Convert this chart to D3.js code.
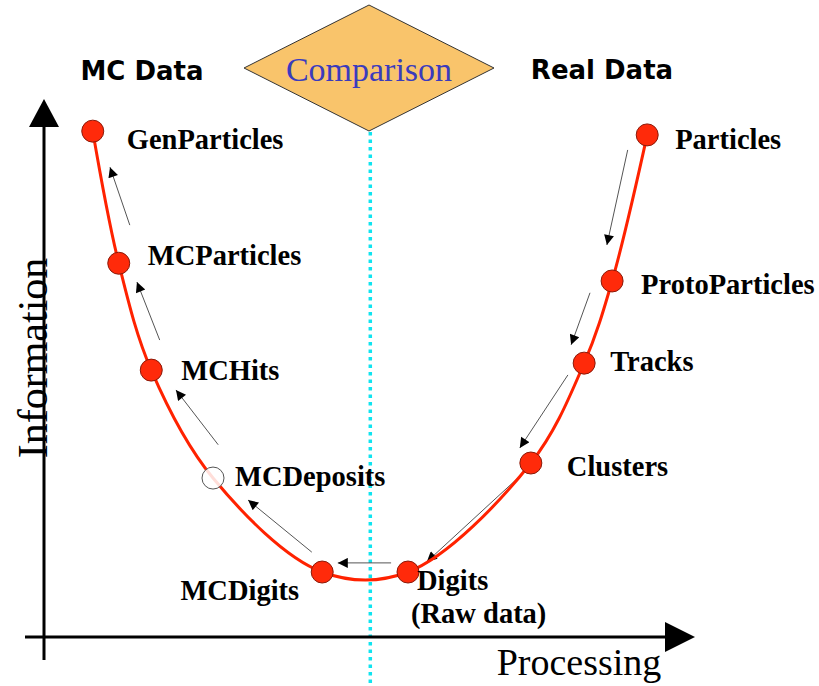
<!DOCTYPE html>
<html><head><meta charset="utf-8">
<script src="https://cdn.jsdelivr.net/npm/d3@7"></script>
<style>body{margin:0;background:#fff}svg{display:block}</style>
</head><body>
<svg id="c" width="819" height="686"></svg>
<script>
// Data (processing = x, information = y, arbitrary units 0..100)
const stages = ["GenParticles","MCParticles","MCHits","MCDeposits","MCDigits","Digits","Clusters","Tracks","ProtoParticles","Particles"];
const processing = [7.5, 11.5, 16.5, 26.0, 42.8, 56.0, 74.9, 83.1, 87.4, 92.8];
const information = [94.2, 69.6, 49.7, 29.6, 12.1, 12.1, 32.4, 51.0, 66.3, 93.5];
const hollow = ["MCDeposits"];
const sublabels = {"Digits": "(Raw data)"};
// flow arrows [fromX, fromY, toX, toY] in data units
const flowFrom = [[13.2,76.7],[17.8,55.3],[26.8,35.8],[41.2,15.8],[53.4,13.8],[89.8,90.7],[84.0,64.1],[80.6,48.8],[72.9,29.6]];
const flowTo   = [[10.15,87.5],[14.3,66.1],[20.3,46.0],[31.4,25.5],[45.2,13.8],[86.6,73.0],[81.1,54.4],[73.2,35.2],[58.9,14.0]];
const comparisonX = 50.2;

// layout
const labelOffsets = [[34,8],[29,-8],[30,0],[22,-2],[-23,18],[9,8],[36,3],[26,-2],[29,4],[28,5]];

const svg = d3.select("#c");
const x = d3.scaleLinear().domain([0,100]).range([44,694]);
const y = d3.scaleLinear().domain([0,100]).range([637,100]);

const defs = svg.append("defs");
defs.append("marker").attr("id","ah").attr("viewBox","0 0 10 10").attr("refX",10).attr("refY",5)
  .attr("markerWidth",14).attr("markerHeight",10).attr("markerUnits","userSpaceOnUse").attr("orient","auto")
  .append("path").attr("d","M0,0L10,5L0,10Z").attr("fill","#000");

// Comparison dotted line
svg.append("line").attr("x1",x(comparisonX)).attr("x2",x(comparisonX)).attr("y1",132).attr("y2",686)
  .attr("stroke","#10e4f0").attr("stroke-width",3.5).attr("stroke-dasharray","3.5,4");

// axes
svg.append("line").attr("x1",44).attr("x2",44).attr("y1",125).attr("y2",660).attr("stroke","#000").attr("stroke-width",3);
svg.append("path").attr("d","M29,127L44,99L59,127Z").attr("fill","#000");
svg.append("line").attr("x1",25).attr("x2",668).attr("y1",637).attr("y2",637).attr("stroke","#000").attr("stroke-width",3);
svg.append("path").attr("d","M665,622L695,637L665,652Z").attr("fill","#000");

svg.append("text").attr("transform","translate(47,358) rotate(-90)").attr("text-anchor","middle")
  .attr("font-family","Liberation Serif").attr("font-size",42).text("Information");
svg.append("text").attr("x",579).attr("y",675).attr("text-anchor","middle")
  .attr("font-family","Liberation Serif").attr("font-size",38).text("Processing");

// diamond
svg.append("path").attr("d","M369,5L494,68L369,131L244,68Z").attr("fill","#f9c46b").attr("stroke","#333").attr("stroke-width",1);
svg.append("text").attr("x",369).attr("y",69).attr("text-anchor","middle").attr("dominant-baseline","central")
  .attr("font-family","Liberation Serif").attr("font-size",34).attr("fill","#3b3bbd").text("Comparison");
svg.append("text").attr("x",142).attr("y",71).attr("text-anchor","middle").attr("dominant-baseline","central")
  .attr("font-family","'Comic Sans MS','DejaVu Sans'").attr("font-weight","bold").attr("font-size",26).text("MC Data");
svg.append("text").attr("x",602).attr("y",70).attr("text-anchor","middle").attr("dominant-baseline","central")
  .attr("font-family","'Comic Sans MS','DejaVu Sans'").attr("font-weight","bold").attr("font-size",26).text("Real Data");

// arrows
svg.selectAll("line.flow").data(flowFrom).enter().append("line").attr("class","flow")
  .attr("x1",d=>x(d[0])).attr("y1",d=>y(d[1]))
  .attr("x2",(d,i)=>x(flowTo[i][0])).attr("y2",(d,i)=>y(flowTo[i][1]))
  .attr("stroke","#555").attr("stroke-width",1).attr("marker-end","url(#ah)");

// curve
const pts = stages.map((s,i)=>({name:s, px:processing[i], info:information[i], i}));
svg.append("path").datum(pts)
  .attr("d", d3.line().x(d=>x(d.px)).y(d=>y(d.info)).curve(d3.curveCatmullRom.alpha(0.5)))
  .attr("fill","none").attr("stroke","#ff2200").attr("stroke-width",3);

// points
svg.selectAll("circle.pt").data(pts).enter().append("circle").attr("class","pt")
  .attr("cx",d=>x(d.px)).attr("cy",d=>y(d.info)).attr("r",11)
  .attr("fill",d=>hollow.includes(d.name)?"rgba(255,255,255,0.85)":"#ff2a0a")
  .attr("stroke",d=>hollow.includes(d.name)?"#555":"#8a1a0a").attr("stroke-width",1);

// labels
svg.selectAll("text.lab").data(pts).enter().append("text").attr("class","lab")
  .attr("x",d=>x(d.px)+labelOffsets[d.i][0]).attr("y",d=>y(d.info)+labelOffsets[d.i][1])
  .attr("text-anchor",d=>labelOffsets[d.i][0]<0?"end":"start").attr("dominant-baseline","central")
  .attr("font-family","Liberation Serif").attr("font-weight","bold").attr("font-size",28.5).text(d=>d.name);
pts.filter(d=>sublabels[d.name]).forEach(d=>{
  svg.append("text").attr("x",x(d.px)+3).attr("y",y(d.info)+41).attr("dominant-baseline","central")
    .attr("font-family","Liberation Serif").attr("font-weight","bold").attr("font-size",28.5).text(sublabels[d.name]);
});
</script>
</body></html>
